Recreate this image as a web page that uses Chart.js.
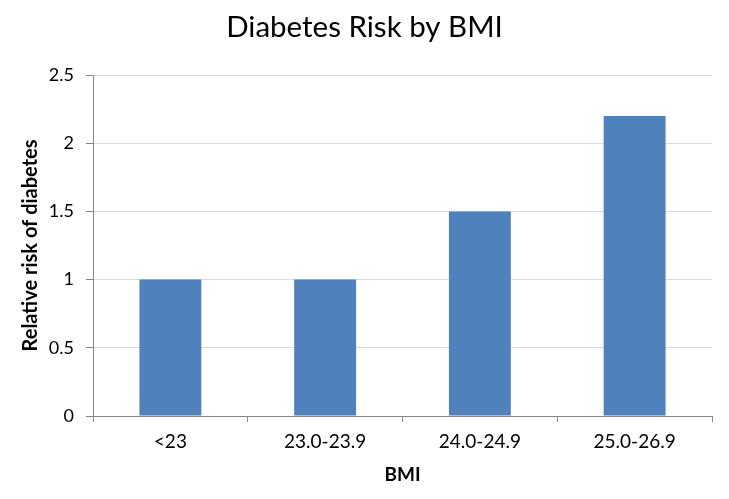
<!DOCTYPE html>
<html>
<head>
<meta charset="utf-8">
<script src="https://cdn.jsdelivr.net/npm/chart.js@4/dist/chart.umd.min.js"></script>
<style>
 html,body{margin:0;padding:0;background:#fff;}
 #wrap{width:729px;height:499px;}
</style>
</head>
<body>
<div id="wrap"><canvas id="chart"></canvas></div>
<script>
// Diabetes risk by BMI bar chart

const categories = ["<23", "23.0-23.9", "24.0-24.9", "25.0-26.9"];
const relativeRisk = [1, 1, 1.5, 2.2];
const yTicks = [0, 0.5, 1, 1.5, 2, 2.5];

const FONT = "Lato, 'Liberation Sans', sans-serif";

new Chart(document.getElementById('chart'), {
 type: 'bar',
 data: {
  labels: categories,
  datasets: [{
   label: "Relative risk",
   data: relativeRisk,
   backgroundColor: "#4F81BD",
   barPercentage: 0.4,
   categoryPercentage: 1
  }]
 },
 options: {
  responsive: true,
  maintainAspectRatio: false,
  animation: false,
  layout: { padding: 0 },
  plugins: {
   legend: { display: false },
   tooltip: { enabled: false },
   title: {
    display: true,
    text: "Diabetes Risk by BMI",
    color: "#000",
    font: { family: FONT, size: 29.5, weight: 'normal' },
    padding: { top: 10, bottom: 75 - 10 - 29.5 * 1.2 }
   }
  },
  scales: {
   x: {
    grid: { drawOnChartArea: false, color: "#868686", tickLength: 6 },
    border: { color: "#868686" },
    ticks: { color: "#000", font: { family: FONT, size: 19 }, padding: 8 },
    title: {
     display: true, text: "BMI", color: "#000",
     font: { family: FONT, size: 19, weight: 'bold' },
     padding: { top: 0, bottom: 13 }
    },
    afterFit: s => { s.height = 499 - 416; }
   },
   y: {
    min: 0, max: 2.5,
    afterBuildTicks: s => { s.ticks = yTicks.map(v => ({ value: v })); },
    grid: { color: "#D9D9D9", tickColor: "#868686", tickLength: 7 },
    border: { color: "#868686" },
    ticks: {
     color: "#000", font: { family: FONT, size: 18 }, padding: 12,
     callback: v => String(v)
    },
    title: {
     display: true, text: "Relative risk of diabetes", color: "#000",
     font: { family: FONT, size: 20, weight: 'bold' },
     padding: { top: 19, bottom: 0 }
    },
    afterFit: s => { s.width = 93; }
   },
   // empty right margin axis so the title centres on the full width
   yRight: {
    position: 'right',
    display: true,
    grid: { display: false },
    border: { display: false },
    ticks: { display: false },
    afterFit: s => { s.width = 17; }
   }
  }
 }
});
</script>
</body>
</html>
